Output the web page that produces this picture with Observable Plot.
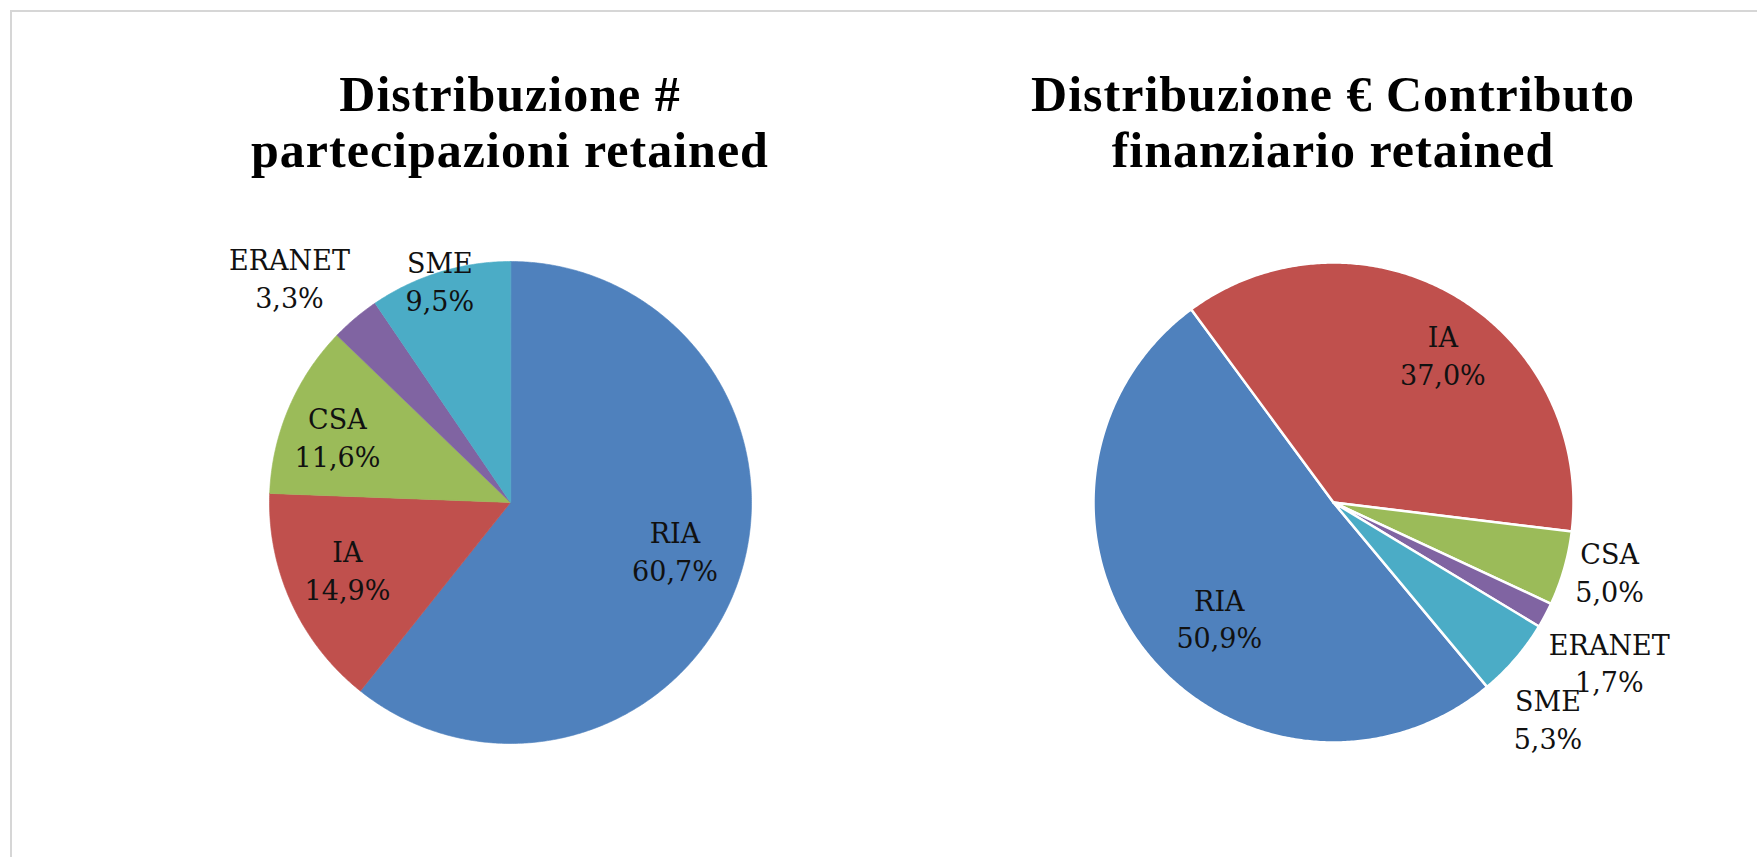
<!DOCTYPE html>
<html>
<head>
<meta charset="utf-8">
<script src="https://cdn.jsdelivr.net/npm/d3@7"></script>
<script src="https://cdn.jsdelivr.net/npm/@observablehq/plot@0.6"></script>
<style>
  html, body { margin: 0; padding: 0; background: #fff; }
  body { width: 1757px; height: 857px; overflow: hidden; position: relative; }
  #frame { position: absolute; left: 10px; top: 10px; width: 1800px; height: 900px;
           border-left: 2px solid #d6d6d6; border-top: 2px solid #d6d6d6; }
  .pie { position: absolute; top: 0; }
  .title { position: absolute; top: 66px; width: 800px; text-align: center;
           font-family: "Liberation Serif", serif; font-weight: bold; font-size: 50px;
           line-height: 56px; letter-spacing: 1px; color: #000; white-space: pre; }
</style>
</head>
<body>
<div id="frame"></div>
<div id="left" class="pie" style="left:0px;width:878px;"></div>
<div id="right" class="pie" style="left:878px;width:879px;"></div>
<div id="t1" class="title" style="left:110px;"></div>
<div id="t2" class="title" style="left:933px;"></div>
<script>
// ---- data ----
const categories = ["RIA", "IA", "CSA", "ERANET", "SME"];
const colors = ["#4F81BD", "#C0504D", "#9BBB59", "#8064A2", "#4BACC6"];
const partecipazioni = [60.7, 14.9, 11.6, 3.3, 9.5];
const contributo = [50.9, 37.0, 5.0, 1.7, 5.3];
const titleLeft = "Distribuzione #\npartecipazioni retained";
const titleRight = "Distribuzione € Contributo\nfinanziario retained";

// ---- label placement (radius factor, angle shift from slice bisector in degrees) ----
const leftLabelRadius = [0.71, 0.73, 0.77, 1.31, 0.97];
const leftLabelShift = [-3.3, 2.6, -1.9, -4.3, -0.5];
const rightLabelRadius = [0.675, 0.77, 1.185, 1.326, 1.267];
const rightLabelShift = [-7.1, 6.0, -2.1, 1.9, 4.5];

document.getElementById("t1").textContent = titleLeft;
document.getElementById("t2").textContent = titleRight;

const fmt = v => v.toFixed(1).replace(".", ",") + "%";
const rad = d => d * Math.PI / 180;

function build(values, startDeg, lr, ls) {
  const total = d3.sum(values);
  const poly = [], labels = [];
  let a = startDeg;
  values.forEach((v, i) => {
    const cat = categories[i];
    const span = v / total * 360;
    const n = Math.max(4, Math.ceil(span / 0.5));
    poly.push({cat, x: 0, y: 0});
    for (let k = 0; k <= n; k++) {
      const t = rad(a + span * k / n);
      poly.push({cat, x: Math.sin(t), y: Math.cos(t)});
    }
    const m = rad(a + span / 2 + ls[i]);
    labels.push({cat, x: lr[i] * Math.sin(m), y: lr[i] * Math.cos(m), text: cat + "\n" + fmt(v)});
    a += span;
  });
  return {poly, labels};
}

function pie(values, startDeg, lr, ls, width, height, cx, cy, R, sliceStroke, sliceStrokeWidth) {
  const {poly, labels} = build(values, startDeg, lr, ls);
  return Plot.plot({
    width, height, margin: 0,
    style: {background: "transparent"},
    x: {domain: [-cx / R, (width - cx) / R], axis: null},
    y: {domain: [-(height - cy) / R, cy / R], axis: null},
    color: {domain: categories, range: colors},
    marks: [
      Plot.line(poly, {x: "x", y: "y", z: "cat", fill: "cat", stroke: sliceStroke,
                       strokeWidth: sliceStrokeWidth, curve: "linear-closed", strokeLinejoin: "round"}),
      Plot.text(labels, {x: "x", y: "y", text: "text", fontSize: 27, fontFamily: "DejaVu Serif",
                         lineHeight: 1.4, lineAnchor: "middle", textAnchor: "middle", fill: "#111"})
    ]
  });
}

document.getElementById("left").append(
  pie(partecipazioni, 0, leftLabelRadius, leftLabelShift, 878, 857, 510, 502, 241, "cat", 0.6)
);
document.getElementById("right").append(
  pie(contributo, 140.2, rightLabelRadius, rightLabelShift, 879, 857, 455, 502, 240, "white", 2.5)
);
</script>
</body>
</html>
